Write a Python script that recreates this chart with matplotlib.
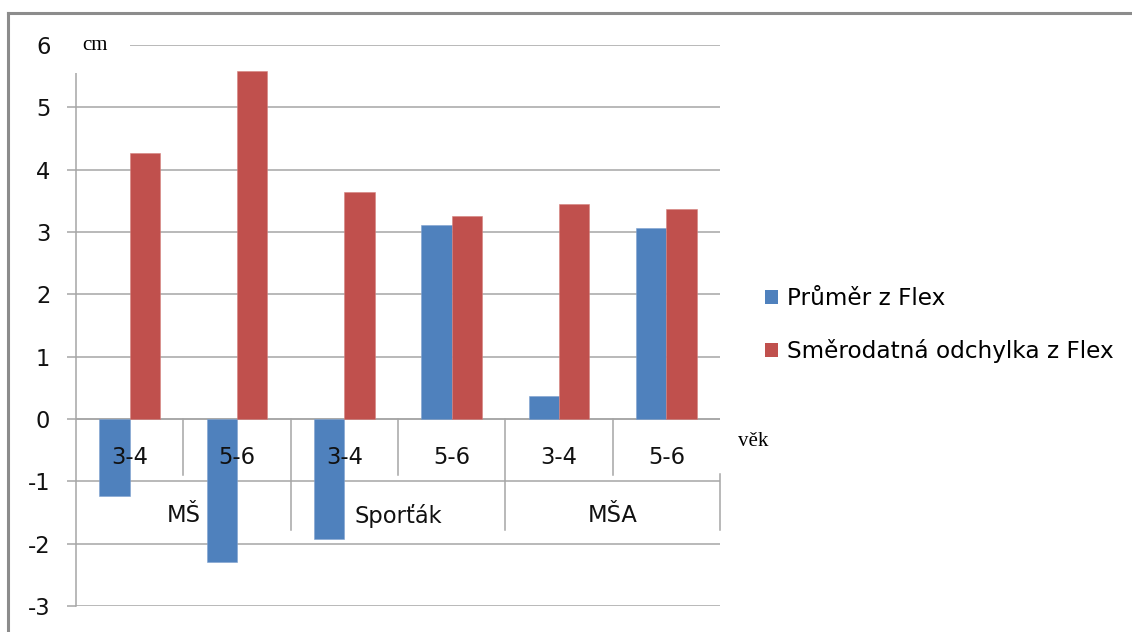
import numpy as np
import matplotlib
matplotlib.use("Agg")
import matplotlib.pyplot as plt
from matplotlib.lines import Line2D
from matplotlib.patches import Rectangle, Patch

plt.rcParams['font.family'] = ['DejaVu Sans']
plt.rcParams['axes.unicode_minus'] = False

# bar values per age band (cm)
ages = ['3-4', '5-6', '3-4', '5-6', '3-4', '5-6']
schools = ['MŠ', 'Sporťák', 'MŠA']
mean_flex = [-1.23, -2.29, -1.92, 3.12, 0.37, 3.06]
sd_flex = [4.26, 5.58, 3.64, 3.25, 3.45, 3.37]
series_names = ['Průměr z Flex', 'Směrodatná odchylka z Flex']
yticks = [-3, -2, -1, 0, 1, 2, 3, 4, 5, 6]

BLUE = '#4F81BD'
RED = '#C0504D'
GRID = '#A6A6A6'
TXT = '#111111'
FS = 16.3

W, H = 1132, 632
fig = plt.figure(figsize=(W / 100, H / 100), dpi=100)
fig.patch.set_facecolor('white')

# plot area in pixel units
left, right, top, bottom = 76, 720, 45, 606
ax = fig.add_axes([left / W, 1 - bottom / H, (right - left) / W, (bottom - top) / H])

x = np.arange(len(ages))
bw = 0.284
ax.bar(x - bw / 2, mean_flex, bw, color=BLUE, zorder=3, edgecolor='#7FA2D0', linewidth=0.4)
ax.bar(x + bw / 2, sd_flex, bw, color=RED, zorder=3, edgecolor='#D5837F', linewidth=0.4)

ax.set_xlim(-0.5, len(ages) - 0.5)
ax.set_ylim(yticks[0], yticks[-1])
ax.set_yticks(yticks)
ax.set_yticklabels([str(t) for t in yticks])
ax.set_xticks([])
ax.yaxis.grid(True, color=GRID, linewidth=1.1, zorder=0)
ax.set_axisbelow(True)
for s in ['top', 'right', 'bottom']:
    ax.spines[s].set_visible(False)
ax.spines['left'].set_color(GRID)
ax.spines['left'].set_linewidth(1.1)
ax.tick_params(axis='y', length=6.5, width=1.1, color=GRID, pad=12, labelsize=FS, labelcolor=TXT)

# two-level category axis drawn along y = 0
ax.axhline(0, color=GRID, linewidth=1.1, zorder=2)
for i, lab in enumerate(ages):
    ax.text(i, -0.62, lab, ha='center', va='center', fontsize=FS, color=TXT, zorder=5)
for b in [0.5, 2.5, 4.5]:
    ax.plot([b, b], [0, -0.9], color=GRID, linewidth=1.1, zorder=2, clip_on=False)
for b in [1.5, 3.5]:
    ax.plot([b, b], [0, -1.78], color=GRID, linewidth=1.1, zorder=2, clip_on=False)
ax.plot([5.5, 5.5], [-0.88, -1.78], color=GRID, linewidth=1.1, zorder=2, clip_on=False)
for j, lab in enumerate(schools):
    ax.text(2 * j + 0.5, -1.55, lab, ha='center', va='center', fontsize=FS, color=TXT, zorder=5)

# outer chart frame
fig.add_artist(Line2D([7.5 / W, 7.5 / W], [0, 1 - 12.5 / H], color='#8C8C8C', linewidth=2.2))
fig.add_artist(Line2D([7.5 / W, 1], [1 - 12.5 / H, 1 - 12.5 / H], color='#8C8C8C', linewidth=2.2))

# unit label box over the top of the value axis
fig.add_artist(Rectangle((60 / W, 1 - 73 / H), 70 / W, 33 / H, facecolor='white', edgecolor='none', zorder=4))
fig.text(82 / W, 1 - 45 / H, 'cm', family='Liberation Serif', fontsize=15, va='center', ha='left', zorder=5)
fig.text(738 / W, 1 - 442 / H, 'věk', family='Liberation Serif', fontsize=15, va='center', ha='left', zorder=5)

handles = [Patch(facecolor=BLUE), Patch(facecolor=RED)]
fig.legend(handles, series_names, loc='center left', bbox_to_anchor=(765 / W, 1 - 325 / H),
           frameon=False, fontsize=16.7, handlelength=0.55, handleheight=0.55, handletextpad=0.4,
           labelspacing=1.25, borderaxespad=0, borderpad=0)

fig.savefig('out.png', dpi=100)
